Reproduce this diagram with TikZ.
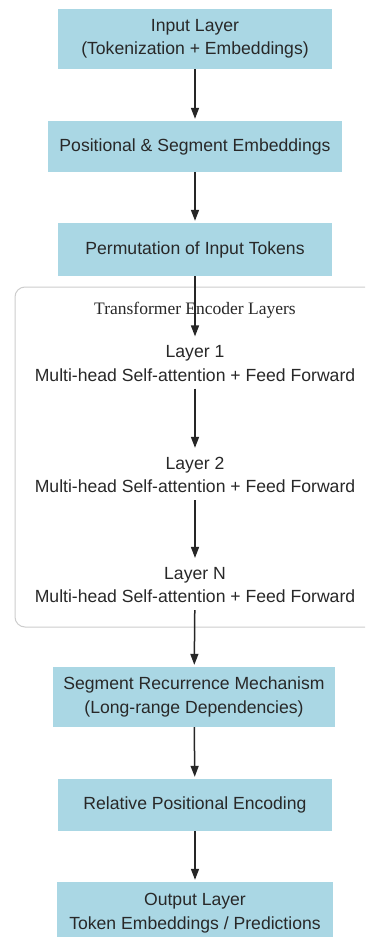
\documentclass[tikz,border=0pt]{standalone}
\usepackage{fontspec}
\setmainfont{Liberation Sans}
\newfontfamily\serifface{Liberation Serif}
\usetikzlibrary{arrows.meta,positioning}
\definecolor{boxblue}{RGB}{170,215,228}
\definecolor{txt}{RGB}{40,40,40}
\definecolor{frame}{RGB}{205,205,205}
\tikzset{
  stagebox/.style={fill=boxblue, draw=none, align=center, text=txt, font=\fontsize{17.6}{23.5}\selectfont, inner sep=0pt},
  layertext/.style={align=center, text=txt, font=\fontsize{17.6}{23.5}\selectfont, inner sep=7pt},
  flow/.style={line width=1.5pt, -{Triangle[length=11pt,width=8pt]}, shorten >=2pt, black!85},
  group/.style={draw=frame, line width=1pt, rounded corners=10pt, fill=white}
}
\begin{document}
\begin{tikzpicture}[x=1pt,y=-1pt]
\useasboundingbox (0,0) rectangle (365,937);
\clip (0,0) rectangle (365,937);
\fill[white] (0,0) rectangle (365,937);
% container
\draw[group] (15,287) rectangle (378,627);
\node[font=\serifface\fontsize{17.5}{20}\selectfont, text=txt] (grouptitle) at (195,310) {Transformer Encoder Layers};
% boxes
\node[stagebox, minimum width=274pt, minimum height=60pt] (b1) at (195,39) {Input Layer\\(Tokenization + Embeddings)};
\node[stagebox, minimum width=294pt, minimum height=51pt] (b2) at (195,146.5) {Positional \& Segment Embeddings};
\node[stagebox, minimum width=274pt, minimum height=53pt] (b3) at (195,249.5) {Permutation of Input Tokens};
\node[layertext] (l1) at (195,363.5) {Layer 1\\Multi-head Self-attention + Feed Forward};
\node[layertext] (l2) at (195,475) {Layer 2\\Multi-head Self-attention + Feed Forward};
\node[layertext] (ln) at (195,585) {Layer N\\Multi-head Self-attention + Feed Forward};
\node[stagebox, minimum width=282pt, minimum height=60pt] (b4) at (194,697) {Segment Recurrence Mechanism\\(Long-range Dependencies)};
\node[stagebox, minimum width=274pt, minimum height=52pt] (b5) at (195,805) {Relative Positional Encoding};
\node[stagebox, minimum width=276pt, minimum height=62pt] (b6) at (195,913) {Output Layer\\Token Embeddings / Predictions};
% arrows
\draw[flow] (b1) -- (b2);
\draw[flow] (b2) -- (b3);
\draw[flow] (b3) -- (l1);
\draw[flow] (l1) -- (l2);
\draw[flow] (l2) -- (ln);
\draw[flow] (ln) -- (b4);
\draw[flow] (b4) -- (b5);
\draw[flow] (b5) -- (b6);
\end{tikzpicture}
\end{document}
